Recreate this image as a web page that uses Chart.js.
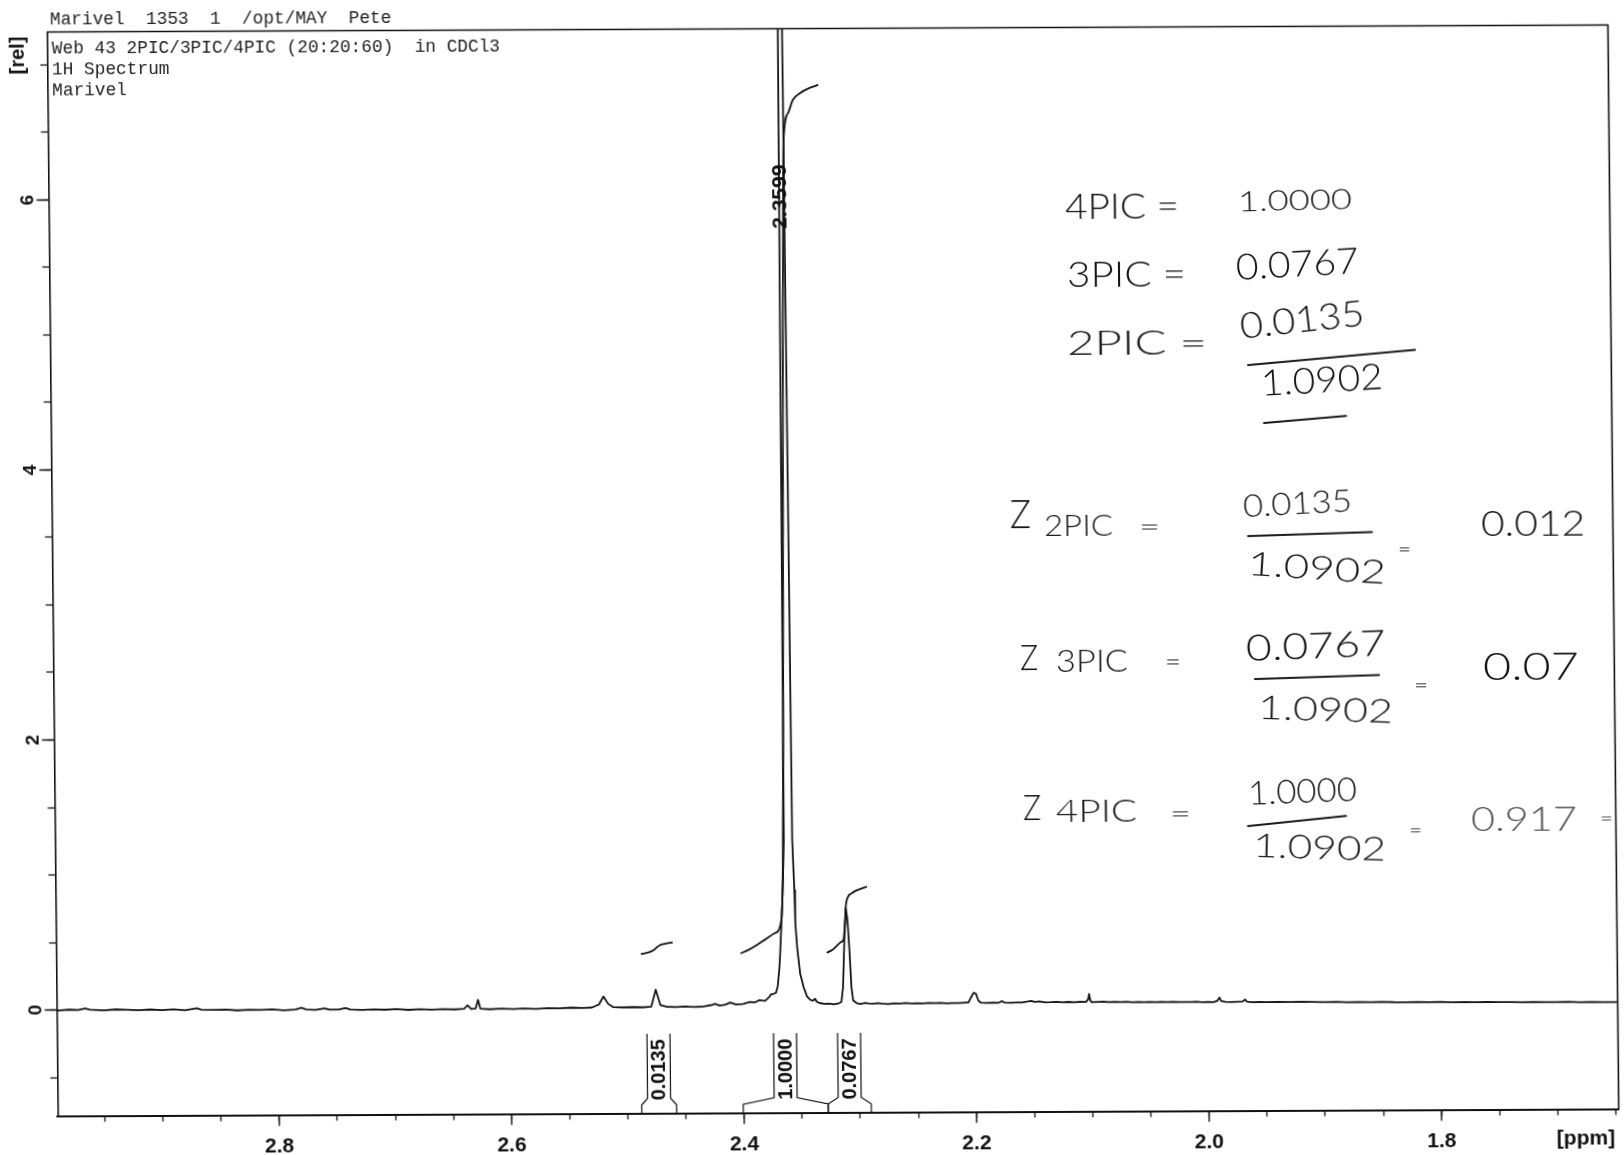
<!DOCTYPE html>
<html>
<head>
<meta charset="utf-8">
<title>1H Spectrum</title>
<script src="https://cdn.jsdelivr.net/npm/chart.js@4.4.1/dist/chart.umd.min.js"></script>
<style>
  html, body { margin: 0; padding: 0; background: #ffffff; overflow: hidden; }
  #wrap { width: 1624px; height: 1155px; }
  /* the scanned sheet sits slightly askew on the page */
  #spec { display: block; transform: matrix(1, -0.0045, 0.01, 1, 0, 0); transform-origin: 832px 573px; }
</style>
</head>
<body>
<div id="wrap"><canvas id="spec" width="1624" height="1155"></canvas></div>
<script>
// ---- spectrum: chemical shift (ppm) and relative intensity ----
const shiftPpm = [
  3.000, 2.990, 2.980, 2.972, 2.966, 2.962, 2.950, 2.940, 2.930, 2.920,
  2.910, 2.900, 2.890, 2.880, 2.870, 2.866, 2.855, 2.845, 2.835, 2.825,
  2.815, 2.805, 2.795, 2.785, 2.780, 2.776, 2.768, 2.760, 2.756, 2.748,
  2.742, 2.738, 2.728, 2.718, 2.708, 2.698, 2.688, 2.678, 2.668, 2.658,
  2.648, 2.640, 2.637, 2.634, 2.630, 2.628, 2.626, 2.618, 2.608, 2.598,
  2.588, 2.578, 2.568, 2.558, 2.548, 2.538, 2.530, 2.524, 2.520, 2.516,
  2.512, 2.504, 2.494, 2.486, 2.479, 2.475, 2.471, 2.466, 2.458, 2.450,
  2.442, 2.434, 2.428, 2.424, 2.420, 2.415, 2.411, 2.406, 2.400, 2.394,
  2.390, 2.386, 2.381, 2.3775, 2.3760, 2.3735, 2.3715, 2.3700, 2.3685, 2.3678,
  2.3663, 2.3649, 2.3635, 2.3627, 2.3618, 2.3599, 2.3580, 2.3571, 2.3563, 2.3549,
  2.3543, 2.3529, 2.3506, 2.3477, 2.3449, 2.3420, 2.3400, 2.3380, 2.3365, 2.3340,
  2.3300, 2.3260, 2.3220, 2.3175, 2.3153, 2.3138, 2.3123, 2.3108, 2.3095, 2.3080,
  2.3066, 2.3052, 2.3022, 2.2990, 2.2950, 2.2920, 2.2880, 2.2840, 2.2800, 2.2750,
  2.2700, 2.2650, 2.2600, 2.2550, 2.2500, 2.2450, 2.2400, 2.2350, 2.2300, 2.2250,
  2.2200, 2.2150, 2.2100, 2.2060, 2.2040, 2.2015, 2.1995, 2.1975, 2.1955, 2.1900,
  2.1850, 2.1800, 2.1770, 2.1750, 2.1700, 2.1650, 2.1600, 2.1550, 2.1520, 2.1490,
  2.1450, 2.1400, 2.1350, 2.1300, 2.1250, 2.1200, 2.1150, 2.1100, 2.1050, 2.1030,
  2.1022, 2.1012, 2.1000, 2.0950, 2.0900, 2.0850, 2.0800, 2.0750, 2.0700, 2.0650,
  2.0600, 2.0550, 2.0500, 2.0450, 2.0400, 2.0350, 2.0300, 2.0250, 2.0200, 2.0150,
  2.0100, 2.0050, 2.0000, 1.9950, 1.9920, 1.9900, 1.9885, 1.9850, 1.9800, 1.9750,
  1.9700, 1.9680, 1.9665, 1.9620, 1.9550, 1.9500, 1.9400, 1.9300, 1.9200, 1.9100,
  1.9000, 1.8900, 1.8800, 1.8700, 1.8600, 1.8500, 1.8400, 1.8300, 1.8200, 1.8100,
  1.8000, 1.7900, 1.7800, 1.7700, 1.7600, 1.7500, 1.7400, 1.7300, 1.7200, 1.7100,
  1.7000, 1.6900, 1.6800, 1.6700, 1.6600, 1.6520, 1.6480
];
const intensity = [
  0.000, -0.004, 0.002, -0.001, 0.011, 0.001, -0.005, 0.002, -0.001, -0.005,
  0.000, -0.004, 0.001, -0.006, 0.009, -0.002, -0.005, -0.002, -0.009, -0.005,
  -0.007, -0.002, -0.010, -0.004, 0.008, -0.004, -0.008, 0.003, -0.007, -0.006,
  0.004, -0.007, -0.010, -0.007, -0.009, -0.005, -0.011, -0.007, -0.010, -0.006,
  -0.009, -0.004, 0.021, -0.006, -0.002, 0.061, -0.004, -0.009, -0.005, -0.008,
  -0.005, -0.008, -0.003, -0.004, 0.000, -0.003, 0.000, 0.022, 0.082, 0.027,
  0.003, 0.000, 0.002, 0.000, 0.004, 0.130, 0.015, 0.004, 0.001, 0.005,
  0.001, 0.004, 0.013, 0.023, 0.010, 0.018, 0.032, 0.017, 0.022, 0.037,
  0.032, 0.049, 0.044, 0.071, 0.091, 0.096, 0.104, 0.151, 0.276, 0.366,
  0.616, 0.866, 1.236, 3.975, 6.975, 12.00, 6.975, 3.975, 1.235, 0.865,
  0.615, 0.435, 0.245, 0.145, 0.075, 0.050, 0.043, 0.057, 0.035, 0.026,
  0.019, 0.022, 0.016, 0.024, 0.034, 0.144, 0.494, 0.729, 0.644, 0.414,
  0.144, 0.044, 0.024, 0.018, 0.025, 0.021, 0.019, 0.023, 0.019, 0.016,
  0.022, 0.020, 0.024, 0.020, 0.022, 0.019, 0.023, 0.021, 0.023, 0.020,
  0.022, 0.021, 0.024, 0.026, 0.059, 0.097, 0.089, 0.039, 0.024, 0.021,
  0.023, 0.022, 0.034, 0.023, 0.022, 0.024, 0.023, 0.030, 0.035, 0.027,
  0.030, 0.024, 0.025, 0.027, 0.023, 0.026, 0.024, 0.026, 0.025, 0.046,
  0.085, 0.036, 0.023, 0.025, 0.026, 0.023, 0.025, 0.024, 0.025, 0.022,
  0.024, 0.021, 0.024, 0.021, 0.023, 0.022, 0.024, 0.021, 0.022, 0.021,
  0.023, 0.020, 0.022, 0.020, 0.029, 0.053, 0.027, 0.021, 0.019, 0.022,
  0.024, 0.038, 0.022, 0.018, 0.020, 0.018, 0.019, 0.017, 0.019, 0.017,
  0.016, 0.017, 0.014, 0.016, 0.014, 0.016, 0.013, 0.012, 0.014, 0.012,
  0.014, 0.010, 0.012, 0.011, 0.012, 0.010, 0.011, 0.008, 0.011, 0.008,
  0.009, 0.011, 0.007, 0.009, 0.007, 0.006, 0.007
];

// ---- integral traces (drawn over each integrated region) ----
const integral2PicPpm = [2.4875, 2.4820, 2.4770, 2.4740, 2.4715, 2.4670, 2.4600];
const integral2PicVal = [0.395, 0.405, 0.420, 0.442, 0.458, 0.469, 0.480];

const integral4PicPpm = [2.4018, 2.3950, 2.3866, 2.3800, 2.3721, 2.3663, 2.3645, 2.3630,
                         2.3615, 2.3600, 2.3585, 2.3575, 2.3532, 2.3494, 2.3431, 2.3345, 2.3274];
const integral4PicVal = [0.396, 0.421, 0.463, 0.501, 0.544, 0.643, 1.076, 2.176,
                         3.576, 4.976, 6.076, 6.446, 6.626, 6.716, 6.766, 6.806, 6.826];

const integral3PicPpm = [2.3275, 2.3228, 2.3195, 2.3148, 2.3129, 2.3117, 2.3108, 2.3086,
                         2.3058, 2.3037, 2.2988, 2.2923];
const integral3PicVal = [0.398, 0.419, 0.444, 0.479, 0.499, 0.614, 0.739, 0.814,
                         0.836, 0.849, 0.867, 0.887];

// ---- peak pick and integral regions ----
const peakShifts = [2.3599];
const integralFrom = [2.4880, 2.4007, 2.3276];
const integralTo = [2.4580, 2.3276, 2.2905];
const integralValues = ['0.0135', '1.0000', '0.0767'];

// ---- axis labels ----
const xTickLabels = ['2.8', '2.6', '2.4', '2.2', '2.0', '1.8'];
const yTickLabels = ['0', '2', '4', '6'];

// ---- header and handwritten notes ----
const headerLine = 'Marivel  1353  1  /opt/MAY  Pete';
const titleLines = ['Web 43 2PIC/3PIC/4PIC (20:20:60)  in CDCl3', '1H Spectrum', 'Marivel'];

// text, left x, centre y, width, font size, tilt (deg), colour
const handNotes = [
  ['4PIC =', 1068.7, 208.3, 114, 36, 0, '#111'],
  ['1.0000', 1241.7, 204.1, 114, 28, -1, '#1a1a1a'],
  ['3PIC =', 1070, 276.3, 119, 36, 0, '#111'],
  ['0.0767', 1239, 270.1, 123, 36, -3, '#111'],
  ['2PIC =', 1069.3, 345.4, 140, 33, 0, '#1a1a1a'],
  ['0.0135', 1242.5, 329.1, 125, 36, -6, '#111'],
  ['1.0902', 1262.9, 386.2, 122, 36, -3, '#111'],
  ['Z', 1010.6, 515.8, 21, 40, 0, '#111'],
  ['2PIC', 1044.5, 528.1, 69, 29, 0, '#1a1a1a'],
  ['=', 1139.5, 528.4, 21, 26, 0, '#222'],
  ['0.0135', 1243.7, 509.1, 109, 31, -3, '#1a1a1a'],
  ['1.0902', 1248.1, 566.2, 138, 33, 4, '#1a1a1a'],
  ['=', 1398.2, 551.6, 13, 22, 0, '#333'],
  ['0.012', 1481.5, 527.2, 104, 36, 0, '#111'],
  ['Z', 1019.2, 658.9, 18, 36, 0, '#111'],
  ['3PIC', 1055.1, 663.2, 72, 31, 0, '#1a1a1a'],
  ['=', 1164.1, 664.5, 16, 24, 0, '#222'],
  ['0.0767', 1245.2, 651.2, 140, 36, -2, '#111'],
  ['1.0902', 1256.7, 710.2, 135, 33, 2, '#1a1a1a'],
  ['=', 1412.9, 687.7, 14, 22, 0, '#333'],
  ['0.07', 1482, 671.1, 96, 38, 0, '#111'],
  ['Z', 1020.7, 808.9, 18, 36, 0, '#111'],
  ['4PIC', 1053.6, 813.2, 81, 31, 0, '#1a1a1a'],
  ['=', 1167.6, 816.6, 21, 24, 0, '#222'],
  ['1.0000', 1245.8, 796.1, 109, 33, -2, '#1a1a1a'],
  ['1.0902', 1250.3, 848.2, 133, 33, 2, '#222'],
  ['=', 1406.4, 832.6, 13, 22, 0, '#444'],
  ['0.917', 1468.5, 823.1, 106, 33, 0, '#555'],
  ['=', 1597.5, 821.5, 13, 22, 0, '#555']
];
// handwritten rules: x1, y1, x2, y2
const handRules = [
  [1250.1, 366.9, 1417.2, 352.6],
  [1265.5, 424.9, 1347.6, 418.3],
  [1248.4, 537.9, 1372.4, 534.4],
  [1253.9, 680.9, 1378.0, 677.5],
  [1245.5, 827.9, 1343.6, 818.3]
];

const toPoints = (xs, ys) => xs.map((x, i) => ({ x: x, y: ys[i] }));
const sansBold = (size) => ({ family: '"Liberation Sans", Arial, sans-serif', size: size, weight: 'bold' });
const near = (a, b) => Math.abs(a - b) < 1e-6;
const isMajor = (labels, v) => labels.some(l => near(parseFloat(l), v));

// frame, longer labelled ticks, peak/integral labels and page text
const decorations = {
  id: 'decorations',
  afterDraw(chart) {
    const ctx = chart.ctx;
    const a = chart.chartArea;
    const x = chart.scales.x;
    const y = chart.scales.y;
    ctx.save();

    // upper and right frame edges
    ctx.strokeStyle = '#111';
    ctx.lineWidth = 1.6;
    ctx.beginPath();
    ctx.moveTo(a.left, a.top);
    ctx.lineTo(a.right, a.top);
    ctx.lineTo(a.right, a.bottom);
    ctx.stroke();

    // extend the labelled ticks
    ctx.lineWidth = 1.4;
    ctx.beginPath();
    x.ticks.forEach(t => {
      if (!isMajor(xTickLabels, t.value)) return;
      const px = x.getPixelForValue(t.value);
      ctx.moveTo(px, a.bottom);
      ctx.lineTo(px, a.bottom + 11);
    });
    y.ticks.forEach(t => {
      if (!isMajor(yTickLabels, t.value)) return;
      const py = y.getPixelForValue(t.value);
      ctx.moveTo(a.left, py);
      ctx.lineTo(a.left - 12, py);
    });
    ctx.stroke();

    // integral brackets with their values
    ctx.lineWidth = 1.2;
    ctx.fillStyle = '#111';
    ctx.font = 'bold 20px "Liberation Sans", Arial, sans-serif';
    ctx.textAlign = 'center';
    ctx.textBaseline = 'middle';
    const yKnee = y.getPixelForValue(-0.722);
    const yBox = y.getPixelForValue(-0.674);
    const yTop = y.getPixelForValue(-0.196);
    const yLabel = y.getPixelForValue(-0.463);
    integralValues.forEach((txt, i) => {
      const xa = x.getPixelForValue(integralFrom[i]);
      const xb = x.getPixelForValue(integralTo[i]);
      const xm = (xa + xb) / 2, half = 11.5;
      ctx.beginPath();
      ctx.moveTo(xa, a.bottom); ctx.lineTo(xa, yKnee); ctx.lineTo(xm - half, yBox); ctx.lineTo(xm - half, yTop);
      ctx.moveTo(xb, a.bottom); ctx.lineTo(xb, yKnee); ctx.lineTo(xm + half, yBox); ctx.lineTo(xm + half, yTop);
      ctx.stroke();
      ctx.save();
      ctx.translate(xm, yLabel);
      ctx.rotate(-Math.PI / 2);
      ctx.fillText(txt, 0, 1);
      ctx.restore();
    });

    // peak pick label
    ctx.font = 'bold 21px "Liberation Sans", Arial, sans-serif';
    peakShifts.forEach(p => {
      ctx.save();
      ctx.translate(x.getPixelForValue(p) - 2, y.getPixelForValue(6.0));
      ctx.rotate(-Math.PI / 2);
      ctx.fillText(p.toFixed(4), 0, 1);
      ctx.restore();
    });

    // axis unit labels
    ctx.textAlign = 'right';
    ctx.fillText('[ppm]', a.right - 4, 1142.4);
    ctx.save();
    ctx.font = 'bold 20px "Liberation Sans", Arial, sans-serif';
    ctx.translate(23.8, 51.8);
    ctx.rotate(-Math.PI / 2);
    ctx.textAlign = 'center';
    ctx.fillText('[rel]', 0, 0);
    ctx.restore();

    // header and title block
    ctx.font = '17.8px "Liberation Mono", "DejaVu Sans Mono", monospace';
    ctx.fillStyle = '#222';
    ctx.textAlign = 'left';
    ctx.fillText(headerLine, 55.5, 16);
    titleLines.forEach((line, i) => ctx.fillText(line, a.left + 4.7, a.top + 16.6 + i * 20.9));

    // handwritten working
    handNotes.forEach(([text, hx, hy, w, size, tilt, color]) => {
      ctx.save();
      ctx.font = '300 ' + size + 'px Lato, "Open Sans", sans-serif';
      const m = ctx.measureText(text).width;
      ctx.translate(hx, hy);
      ctx.rotate(tilt * Math.PI / 180);
      ctx.scale(w / m, 1);
      ctx.fillStyle = color;
      ctx.textAlign = 'left';
      ctx.textBaseline = 'middle';
      ctx.fillText(text, 0, 0);
      ctx.restore();
    });
    ctx.strokeStyle = '#1a1a1a';
    ctx.lineWidth = 2;
    ctx.lineCap = 'round';
    ctx.beginPath();
    handRules.forEach(([x1, y1, x2, y2]) => { ctx.moveTo(x1, y1); ctx.lineTo(x2, y2); });
    ctx.stroke();

    ctx.restore();
  }
};

new Chart(document.getElementById('spec'), {
  type: 'line',
  data: {
    datasets: [
      { data: toPoints(shiftPpm, intensity), borderColor: '#141414', borderWidth: 1.8, pointRadius: 0, tension: 0, borderJoinStyle: 'round' },
      { data: toPoints(integral2PicPpm, integral2PicVal), borderColor: '#141414', borderWidth: 1.8, pointRadius: 0, cubicInterpolationMode: 'monotone' },
      { data: toPoints(integral4PicPpm, integral4PicVal), borderColor: '#141414', borderWidth: 1.8, pointRadius: 0, cubicInterpolationMode: 'monotone' },
      { data: toPoints(integral3PicPpm, integral3PicVal), borderColor: '#141414', borderWidth: 1.8, pointRadius: 0, cubicInterpolationMode: 'monotone' }
    ]
  },
  options: {
    responsive: false,
    animation: false,
    devicePixelRatio: 1,
    layout: { padding: { left: 0, top: 28.5, right: 9.6, bottom: 0 } },
    plugins: { legend: { display: false }, tooltip: { enabled: false } },
    scales: {
      x: {
        type: 'linear',
        reverse: true,
        min: 1.6475,
        max: 2.9905,
        grid: { display: true, drawOnChartArea: false, drawTicks: true, tickLength: 6, tickColor: '#111', tickWidth: 1.3, color: '#111' },
        border: { display: true, color: '#111', width: 2 },
        ticks: {
          stepSize: 0.05,
          autoSkip: false,
          includeBounds: false,
          maxRotation: 0,
          padding: 13.5,
          color: '#111',
          font: sansBold(21),
          callback: (v) => xTickLabels.find(l => near(parseFloat(l), v)) || ''
        },
        afterFit: (s) => { s.height = 42.5; }
      },
      y: {
        type: 'linear',
        min: -0.785,
        max: 7.244,
        grid: { display: true, drawOnChartArea: false, drawTicks: true, tickLength: 7, tickColor: '#111', tickWidth: 1.3, color: '#111' },
        border: { display: true, color: '#111', width: 1.6 },
        ticks: {
          stepSize: 0.5,
          autoSkip: false,
          includeBounds: false,
          minRotation: 90,
          maxRotation: 90,
          crossAlign: 'center',
          padding: 8.5,
          color: '#111',
          font: sansBold(19),
          callback: (v) => yTickLabels.find(l => near(parseFloat(l), v)) || ''
        },
        afterFit: (s) => { s.width = 52.4; }
      }
    }
  },
  plugins: [decorations]
});
</script>
</body>
</html>
